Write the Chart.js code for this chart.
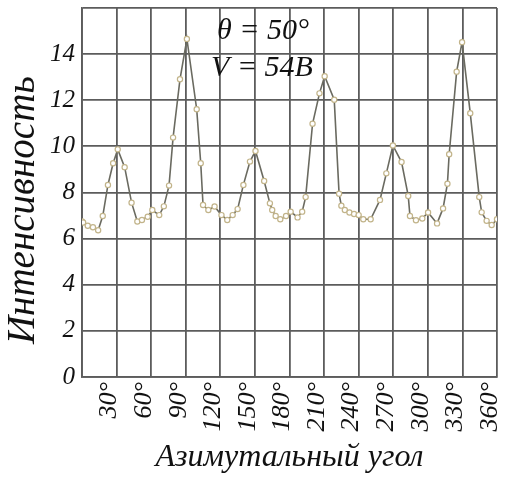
<!DOCTYPE html>
<html>
<head>
<meta charset="utf-8">
<script src="https://cdn.jsdelivr.net/npm/chart.js@4"></script>
<style>
  html, body { margin: 0; padding: 0; background: #fff; }
  #box { width: 508px; height: 479px; }
</style>
</head>
<body>
<div id="box"><canvas id="grafico"></canvas></div>
<script>
// Азимутальный угол (градусы) и интенсивность
const ugly = [0, 1, 5, 9.5, 14, 18, 22.5, 27, 31, 37, 43, 48, 52, 57, 61, 67, 71, 75.5, 79, 85, 91,
  99.5, 103, 105, 109.6, 115, 121, 126, 130.7, 135, 140, 145.7, 150.5, 158, 163, 165, 168, 172,
  177, 181, 187, 191, 194, 200, 206, 210.5, 218.8, 223, 225, 228, 232, 236, 240, 244, 250.4,
  258.5, 264, 269.7, 277.2, 283, 284.5, 289.7, 295.2, 300.2, 308, 313.2, 317, 318.5, 325,
  329.7, 336.8, 344.6, 346.7, 351, 355.4, 360];
const intensivnost = [6.75, 6.7, 6.56, 6.49, 6.36, 6.98, 8.33, 9.27, 9.87, 9.1, 7.56, 6.74, 6.81,
  6.95, 7.24, 7.02, 7.4, 8.3, 10.38, 12.91, 14.66, 11.61, 9.27, 7.46, 7.24, 7.39, 7.02, 6.81,
  7.02, 7.28, 8.33, 9.34, 9.8, 8.5, 7.53, 7.24, 6.98, 6.84, 6.98, 7.17, 6.92, 7.17, 7.8, 10.98,
  12.3, 13.04, 12.02, 7.95, 7.43, 7.24, 7.13, 7.07, 7.02, 6.84, 6.84, 7.68, 8.83, 10.04, 9.32,
  7.85, 6.98, 6.8, 6.87, 7.13, 6.66, 7.31, 8.38, 9.66, 13.24, 14.52, 11.44, 7.8, 7.14, 6.77,
  6.59, 6.84];
const podpisi = ["\u03B8 = 50\u00B0", "V = 54B"];

const serif = "'Liberation Serif', 'Times New Roman', serif";

document.addEventListener("DOMContentLoaded", function () {
  grafico();
});

// подписи внутри графика и название оси Y
const nadpisi = {
  id: "nadpisi",
  afterDraw(chart) {
    const ctx = chart.ctx;
    ctx.save();
    ctx.fillStyle = "#111";
    ctx.font = "italic 30px " + serif;
    ctx.textAlign = "center";
    ctx.textBaseline = "alphabetic";
    ctx.fillText(podpisi[0], 263, 39);
    ctx.fillText(podpisi[1], 262, 76);
    ctx.font = "italic 39px " + serif;
    ctx.translate(24, 210);
    ctx.rotate(-Math.PI / 2);
    ctx.textBaseline = "middle";
    ctx.fillText("Интенсивность", 0, 0);
    ctx.restore();
  },
};

function grafico() {
  var ctx = document.getElementById("grafico").getContext("2d");

  var chart = new Chart(ctx, {
    type: "scatter",
    data: {
      datasets: [
        {
          data: ugly.map((x, i) => ({ x: x, y: intensivnost[i] })),
          showLine: true,
          borderColor: "#6a6a60",
          borderWidth: 1.6,
          pointRadius: 2.6,
          pointBackgroundColor: "#ffffff",
          pointBorderColor: "#c2b48a",
          pointBorderWidth: 1.2,
          tension: 0,
        },
      ],
    },
    plugins: [nadpisi],
    options: {
      responsive: true,
      maintainAspectRatio: false,
      animation: false,
      layout: { padding: { top: 8, right: 11, left: 0, bottom: 0 } },
      plugins: { legend: { display: false }, tooltip: { enabled: false } },
      scales: {
        x: {
          type: "linear",
          min: 0,
          max: 360,
          afterFit: (s) => {
            s.height = 102;
            s.paddingLeft = 0;
            s.paddingRight = 0;
          },
          grid: { color: "#5c5c5c", lineWidth: 1.8, drawTicks: false },
          border: { color: "#5c5c5c", width: 1.8 },
          ticks: {
            stepSize: 30,
            autoSkip: false,
            minRotation: 90,
            maxRotation: 90,
            padding: 5,
            labelOffset: -7,
            color: "#111",
            font: { family: serif, style: "italic", size: 26 },
            callback: (v) => (v === 0 ? "" : v + "°"),
          },
          title: {
            display: true,
            text: "Азимутальный угол",
            color: "#111",
            padding: { top: 0, bottom: 2 },
            font: { family: serif, style: "italic", size: 32 },
          },
        },
        y: {
          min: 0,
          max: 16,
          afterFit: (s) => {
            s.width = 82;
            s.paddingTop = 0;
            s.paddingBottom = 0;
          },
          grid: { color: "#5c5c5c", lineWidth: 1.8, drawTicks: false },
          border: { color: "#5c5c5c", width: 1.8 },
          ticks: {
            stepSize: 2,
            padding: 7,
            color: "#111",
            font: { family: serif, style: "italic", size: 25 },
            callback: (v) => (v === 16 ? "" : v),
          },
        },
      },
    },
  });
}
</script>
</body>
</html>
